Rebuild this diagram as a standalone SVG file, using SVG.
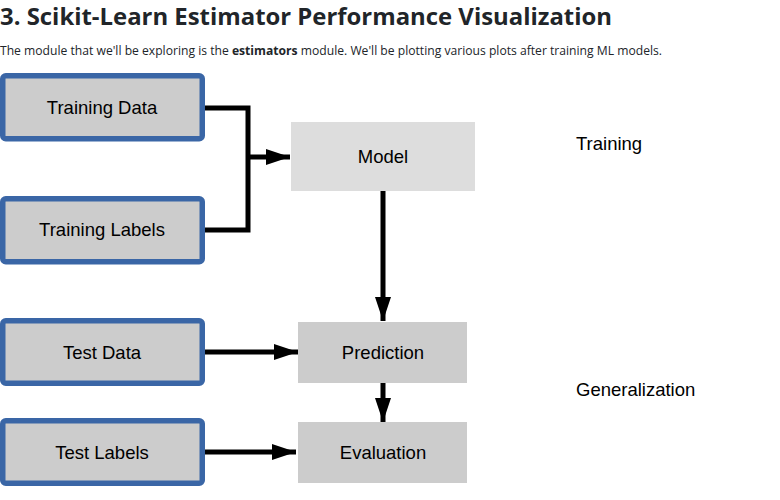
<svg xmlns="http://www.w3.org/2000/svg" width="780" height="500" viewBox="0 0 780 500">
<style>
.title{font-family:"Open Sans","Noto Sans",sans-serif;font-weight:700;font-size:24px;fill:#212529}
.sub{font-family:"Open Sans","Noto Sans",sans-serif;font-size:12px;fill:#212529}
.lbl{font-family:"Liberation Sans",Arial,sans-serif;font-size:18.5px;fill:#000;text-anchor:middle}
.side{font-family:"Liberation Sans",Arial,sans-serif;font-size:18.5px;fill:#000}
.in{fill:#cccccc;stroke:#3a66a6;stroke-width:5.5}
.proc{fill:#cccccc;stroke:none}
.model{fill:#dddddd;stroke:none}
.wire{fill:none;stroke:#000;stroke-width:5}
</style>
<defs>
<marker id="ah" viewBox="0 0 24 16" refX="24" refY="8" markerWidth="24" markerHeight="16" markerUnits="userSpaceOnUse" orient="auto">
<path d="M0,0 L24,8 L0,16 Z" fill="#000"/>
</marker>
</defs>
<rect width="780" height="500" fill="#fff"/>
<text class="title" x="0" y="25" textLength="612" lengthAdjust="spacingAndGlyphs">3. Scikit-Learn Estimator Performance Visualization</text>
<text class="sub" x="0" y="55" textLength="662" lengthAdjust="spacingAndGlyphs">The module that we'll be exploring is the <tspan font-weight="700">estimators</tspan> module. We'll be plotting various plots after training ML models.</text>

<g id="connectors">
<polyline class="wire" points="204,108 248,108 248,230 204,230"/>
<line class="wire" x1="248" y1="157" x2="290" y2="157" marker-end="url(#ah)"/>
<line class="wire" x1="383" y1="191" x2="383" y2="321" marker-end="url(#ah)"/>
<line class="wire" x1="204" y1="352" x2="298" y2="352" marker-end="url(#ah)"/>
<line class="wire" x1="383" y1="383" x2="383" y2="422" marker-end="url(#ah)"/>
<line class="wire" x1="204" y1="452" x2="296" y2="452" marker-end="url(#ah)"/>
</g>

<g id="training-data">
<rect class="in" x="2.75" y="75.75" width="199.5" height="63" rx="3"/>
<text class="lbl" x="102" y="114">Training Data</text>
</g>
<g id="training-labels">
<rect class="in" x="2.75" y="198.75" width="199.5" height="63" rx="3"/>
<text class="lbl" x="102" y="236">Training Labels</text>
</g>
<g id="test-data">
<rect class="in" x="2.75" y="320.75" width="199.5" height="62.5" rx="3"/>
<text class="lbl" x="102" y="359">Test Data</text>
</g>
<g id="test-labels">
<rect class="in" x="2.75" y="420.75" width="199.5" height="62.5" rx="3"/>
<text class="lbl" x="102" y="459">Test Labels</text>
</g>
<g id="model">
<rect class="model" x="291" y="122" width="184" height="69"/>
<text class="lbl" x="383" y="163">Model</text>
</g>
<g id="prediction">
<rect class="proc" x="298" y="322" width="169" height="61"/>
<text class="lbl" x="383" y="359">Prediction</text>
</g>
<g id="evaluation">
<rect class="proc" x="298" y="422" width="169" height="61"/>
<text class="lbl" x="383" y="459">Evaluation</text>
</g>
<g id="side-labels">
<text class="side" x="576" y="150">Training</text>
<text class="side" x="576" y="396">Generalization</text>
</g>
</svg>
